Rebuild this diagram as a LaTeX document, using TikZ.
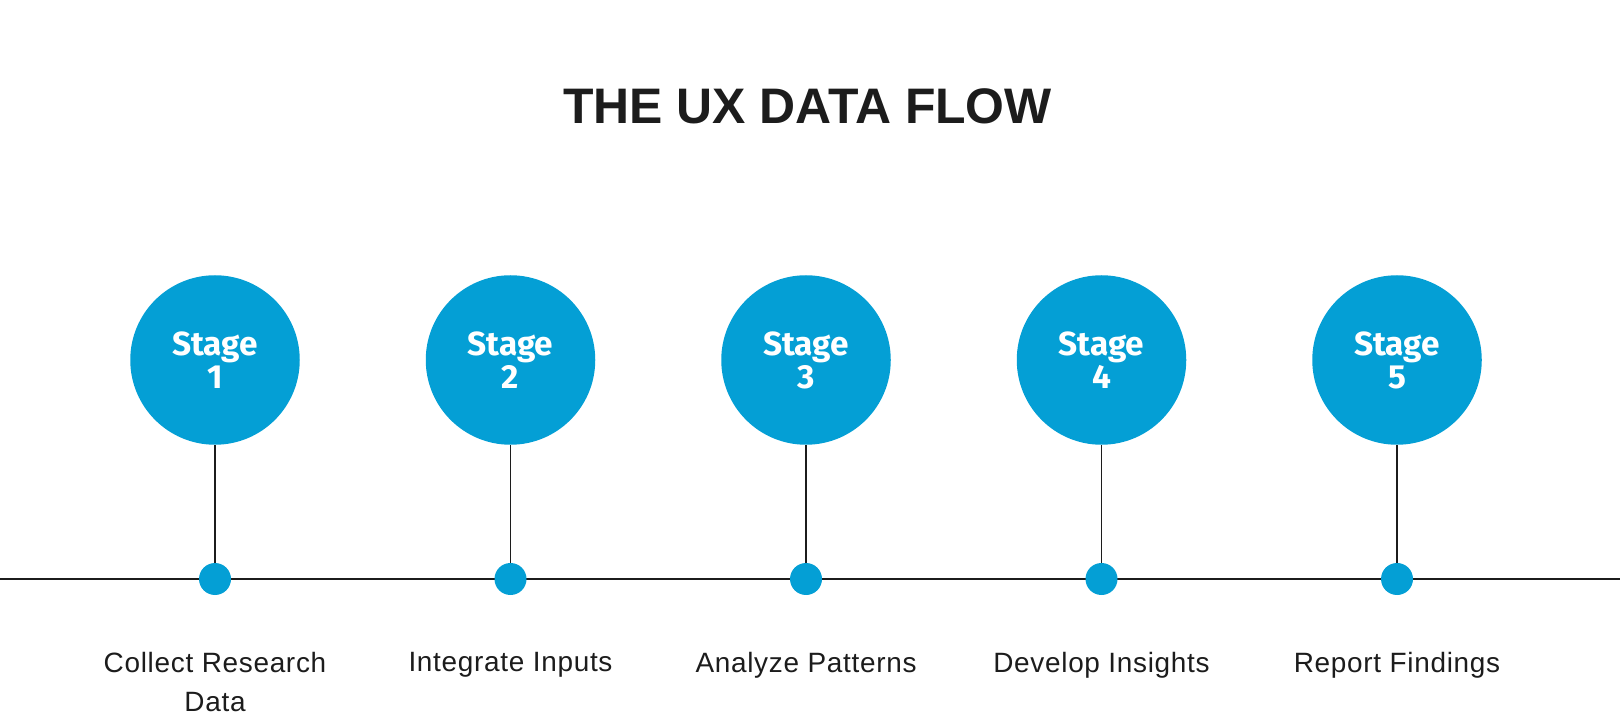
\documentclass[tikz,border=0pt]{standalone}
\usepackage{fontspec}
\setmainfont{Liberation Sans}
\newfontfamily\stagefont{Fira Sans}
\newfontfamily\labelfont[LetterSpace=2.5]{Liberation Sans}
\definecolor{stageblue}{RGB}{4,159,213}
\definecolor{inkgray}{RGB}{28,28,28}
\begin{document}
\begin{tikzpicture}[
    stage/.style={circle,fill=stageblue,minimum size=3.39cm,inner sep=0pt,
      text=white,align=center,font=\stagefont\bfseries\fontsize{19}{18.8}\selectfont},
    dot/.style={circle,fill=stageblue,minimum size=0.64cm,inner sep=0pt},
    stagetext/.style={anchor=north,inner sep=0pt,align=center,text=inkgray,
      font=\labelfont\fontsize{15.9}{22.2}\selectfont},
    link/.style={draw=inkgray,line width=1.1pt},
  ]
  \useasboundingbox (0,0) rectangle (32.4,14.52);
  \node[anchor=base,text=inkgray,font=\bfseries\fontsize{28.4}{30}\selectfont] (title) at (16.15,12.04) {THE UX DATA FLOW};
  % timeline
  \coordinate (start) at (0,2.94);
  \coordinate (end) at (32.4,2.94);
  \draw[link] (start) -- (end);
  \foreach \i/\x/\txt in {1/4.30/{Collect Research\\Data},2/10.21/{Integrate Inputs},
      3/16.12/{Analyze Patterns},4/22.03/{Develop Insights},5/27.94/{Report Findings}}{
    \node[stage] (s\i) at (\x,7.32) {Stage\\\i};
    \node[dot] (d\i) at (\x,2.94) {};
    \draw[link] (s\i.south) -- (d\i.north);
    \node[stagetext] (l\i) at (\x,1.48) {\txt};
  }
\end{tikzpicture}
\end{document}
